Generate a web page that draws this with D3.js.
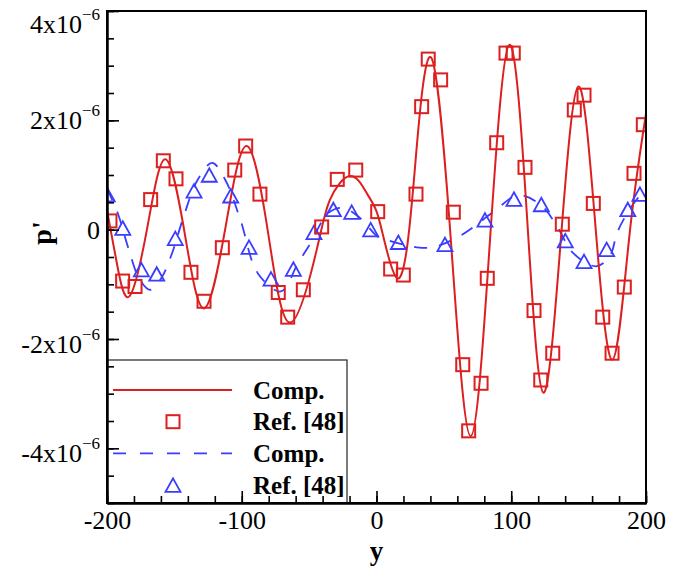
<!DOCTYPE html>
<html>
<head>
<meta charset="utf-8">
<script src="https://cdn.jsdelivr.net/npm/d3@7"></script>
<style>
  html, body { margin: 0; padding: 0; background: #fff; }
  svg { display: block; }
</style>
</head>
<body>
<svg id="chart" width="685" height="567"></svg>
<script>
// Pressure fluctuation p' along y. All p' values are in units of 1e-6.

// Computed solution, red (solid line)
const compRedY = [-200, -192.8, -183.4, -170, -156.7, -142.3, -128, -112, -96.3, -80.3, -64.2, -44.4, -34.5, -19.7, -7.3, 0.1, 6.3, 15.4, 22.4, 28.5, 40.5, 55.5, 69.9, 84.2, 98.6, 111.8, 123.8, 136.8, 149.8, 162.3, 175, 187.6, 200];
const compRedP = [0.35, -0.6, -1.22, 0.05, 1.29, -0.07, -1.44, 0.05, 1.53, -0.08, -1.70, -0.37, 0.55, 0.98, 0.67, 0.33, -0.25, -0.89, -0.37, 1.12, 3.15, -0.3, -3.78, -0.2, 3.38, 0.2, -2.98, -0.18, 2.62, 0.12, -2.38, -0.13, 2.12];

// Reference [48], red squares
const refRedY = [-197.8, -188.4, -179.2, -167.6, -158.2, -148.8, -137.7, -128, -114.4, -105.2, -97.1, -86.5, -72.9, -65.9, -54.3, -40.7, -29.1, -15.4, 0.9, 10.5, 19.9, 29.3, 33.5, 38.4, 47.6, 57, 64, 68.4, 77.6, 82.2, 89.2, 96.1, 101.5, 110.2, 116.9, 121.9, 130.8, 137.9, 146.8, 154, 160.9, 167.9, 174.8, 183.9, 191.1, 198];
const refRedP = [0.16, -0.94, -1.04, 0.55, 1.26, 0.93, -0.78, -1.31, -0.33, 1.09, 1.53, 0.65, -1.15, -1.6, -1.1, 0.05, 0.92, 1.09, 0.33, -0.72, -0.83, 0.65, 2.25, 3.12, 2.74, 0.32, -2.47, -3.68, -2.81, -0.89, 1.59, 3.23, 3.23, 1.14, -1.48, -2.75, -2.26, 0.1, 2.19, 2.46, 0.48, -1.6, -2.26, -1.05, 1.03, 1.92];

// Computed solution, blue (dashed line)
const compBlueY = [-200, -192, -184, -176, -168, -160, -152, -143, -133, -122, -112, -101, -88, -71, -58, -49, -36, -25, -12, 1, 8, 21, 29, 42, 63, 87, 105, 122, 134, 146, 163, 173, 179, 190, 200];
const compBlueP = [0.75, 0.3, -0.35, -0.9, -1.1, -0.9, -0.45, 0.25, 0.9, 1.22, 0.9, 0.18, -0.8, -1.13, -0.6, -0.25, 0.3, 0.4, 0.21, -0.13, -0.19, -0.28, -0.32, -0.32, -0.1, 0.33, 0.63, 0.45, 0.06, -0.43, -0.67, -0.49, -0.03, 0.45, 0.75];

// Reference [48], blue triangles
const refBlueY = [-199.8, -188.3, -174.5, -163.1, -149.3, -135.4, -124.1, -108.2, -94.6, -78.3, -61.7, -46.4, -32, -18.4, -4.3, 16.2, 50.8, 80.5, 102, 122.3, 140.1, 154, 170.8, 186.5, 195.5];
const refBlueP = [0.64, 0.03, -0.73, -0.81, -0.16, 0.71, 1.0, 0.62, -0.32, -0.9, -0.72, -0.05, 0.37, 0.32, 0.0, -0.23, -0.27, 0.18, 0.56, 0.46, -0.2, -0.58, -0.36, 0.37, 0.65];

// Axis ticks
const xMajorTicks = [-200, -100, 0, 100, 200];
const xMinorTicks = d3.range(-200, 201, 20);
const yMajorTicks = [4, 2, 0, -2, -4];
const yMinorTicks = d3.range(-5, 4.001, 0.5);
const yTickMantissa = ["4x10", "2x10", "0", "-2x10", "-4x10"];
const yTickExponent = ["\u22126", "\u22126", "", "\u22126", "\u22126"];

const legendLabels = ["Comp.", "Ref. [48]", "Comp.", "Ref. [48]"];

const RED = "#dc1f1f";
const BLUE = "#3a3cff";
const FONT = "'Liberation Serif', 'Times New Roman', Times, serif";

const W = 685, H = 567;
const plot = { left: 107, right: 646, top: 11, bottom: 503 };

const x = d3.scaleLinear().domain([-200, 200]).range([plot.left, plot.right]);
const y = d3.scaleLinear().domain([-5, 4]).range([plot.bottom, plot.top]);

const svg = d3.select("#chart");
svg.append("rect").attr("width", W).attr("height", H).attr("fill", "#fff");

svg.append("defs").append("clipPath").attr("id", "plot-clip")
  .append("rect")
  .attr("x", plot.left).attr("y", plot.top)
  .attr("width", plot.right - plot.left).attr("height", plot.bottom - plot.top);

const gData = svg.append("g").attr("clip-path", "url(#plot-clip)");

// marker shapes
const SQ = 13;
const TRI_W = 15, TRI_H = 13.5;
const triPath = `M0,${-TRI_H / 2}L${TRI_W / 2},${TRI_H / 2}L${-TRI_W / 2},${TRI_H / 2}Z`;

const blueLine = d3.line().x(d => x(d[0])).y(d => y(d[1])).curve(d3.curveCatmullRom.alpha(0.5));
const redLine = d3.line().x(d => x(d[0])).y(d => y(d[1])).curve(d3.curveNatural);

gData.append("path")
  .datum(d3.zip(compBlueY, compBlueP))
  .attr("d", blueLine)
  .attr("fill", "none")
  .attr("stroke", BLUE)
  .attr("stroke-width", 1.8)
  .attr("stroke-dasharray", "13 12");

gData.append("path")
  .datum(d3.zip(compRedY, compRedP))
  .attr("d", redLine)
  .attr("fill", "none")
  .attr("stroke", RED)
  .attr("stroke-width", 2);

gData.selectAll("path.tri")
  .data(d3.zip(refBlueY, refBlueP))
  .join("path")
  .attr("class", "tri")
  .attr("d", triPath)
  .attr("transform", d => `translate(${x(d[0])},${y(d[1])})`)
  .attr("fill", "none")
  .attr("stroke", BLUE)
  .attr("stroke-width", 1.8);

gData.selectAll("rect.sq")
  .data(d3.zip(refRedY, refRedP))
  .join("rect")
  .attr("class", "sq")
  .attr("x", d => x(d[0]) - SQ / 2)
  .attr("y", d => y(d[1]) - SQ / 2)
  .attr("width", SQ)
  .attr("height", SQ)
  .attr("fill", "none")
  .attr("stroke", RED)
  .attr("stroke-width", 2);

// Legend box in the lower-left corner
const legend = { left: 107, top: 360, right: 347, bottom: 503 };
svg.append("rect")
  .attr("x", legend.left).attr("y", legend.top)
  .attr("width", legend.right - legend.left).attr("height", legend.bottom - legend.top)
  .attr("fill", "#fff").attr("stroke", "#222").attr("stroke-width", 1.2);

const rowY = i => legend.top + 30 + i * 31.7;
const symX0 = 113, symX1 = 232, symXc = 173, textX = 253;

legendLabels.forEach((lab, i) => {
  const cy = rowY(i);
  if (i === 0) {
    svg.append("line").attr("x1", symX0).attr("x2", symX1).attr("y1", cy).attr("y2", cy)
      .attr("stroke", RED).attr("stroke-width", 2);
  } else if (i === 1) {
    svg.append("rect").attr("x", symXc - SQ / 2).attr("y", cy - SQ / 2)
      .attr("width", SQ).attr("height", SQ)
      .attr("fill", "none").attr("stroke", RED).attr("stroke-width", 2);
  } else if (i === 2) {
    svg.append("line").attr("x1", symX0).attr("x2", symX1).attr("y1", cy).attr("y2", cy)
      .attr("stroke", BLUE).attr("stroke-width", 1.8).attr("stroke-dasharray", "13 14");
  } else {
    svg.append("path").attr("d", triPath).attr("transform", `translate(${symXc},${cy})`)
      .attr("fill", "none").attr("stroke", BLUE).attr("stroke-width", 1.8);
  }
  svg.append("text")
    .attr("x", textX).attr("y", cy + 8.5)
    .attr("font-family", FONT).attr("font-weight", "bold").attr("font-size", 25)
    .attr("fill", "#000")
    .text(lab);
});

// Axes (ticks point into the plot)
function styleAxis(g) {
  g.select(".domain").attr("stroke", "#000").attr("stroke-width", 2);
  g.selectAll(".tick line").attr("stroke", "#000").attr("stroke-width", 1.6);
}

svg.append("g")
  .attr("transform", `translate(0,${plot.bottom})`)
  .call(d3.axisBottom(x).tickValues(xMinorTicks).tickSize(-7).tickSizeOuter(0).tickFormat(""))
  .call(styleAxis);

const gx = svg.append("g")
  .attr("transform", `translate(0,${plot.bottom})`)
  .call(d3.axisBottom(x).tickValues(xMajorTicks).tickSize(-12).tickSizeOuter(0)
    .tickPadding(8).tickFormat(d => String(d)))
  .call(styleAxis);
gx.selectAll(".tick text").attr("font-family", FONT).attr("font-size", 26).attr("fill", "#000");

svg.append("g")
  .attr("transform", `translate(${plot.left},0)`)
  .call(d3.axisLeft(y).tickValues(yMinorTicks).tickSize(-7).tickSizeOuter(0).tickFormat(""))
  .call(styleAxis);

svg.append("g")
  .attr("transform", `translate(${plot.left},0)`)
  .call(d3.axisLeft(y).tickValues(yMajorTicks).tickSize(-12).tickSizeOuter(0).tickFormat(""))
  .call(styleAxis);

// y tick labels with superscript exponent
yMajorTicks.forEach((v, i) => {
  const base = Math.max(y(v) + (v < 0 ? 14 : 9), 33);
  const t = svg.append("text")
    .attr("x", 100).attr("y", base)
    .attr("text-anchor", "end")
    .attr("font-family", FONT).attr("font-size", 26).attr("fill", "#000");
  t.append("tspan").text(yTickMantissa[i]);
  if (yTickExponent[i]) {
    t.append("tspan").attr("dy", -13).attr("font-size", 17).text(yTickExponent[i]);
  }
});

// frame
svg.append("rect")
  .attr("x", plot.left).attr("y", plot.top)
  .attr("width", plot.right - plot.left).attr("height", plot.bottom - plot.top)
  .attr("fill", "none").attr("stroke", "#000").attr("stroke-width", 2);

// axis titles
svg.append("text")
  .attr("x", (plot.left + plot.right) / 2).attr("y", 560)
  .attr("text-anchor", "middle")
  .attr("font-family", FONT).attr("font-weight", "bold").attr("font-size", 27)
  .attr("fill", "#000")
  .text("y");

svg.append("text")
  .attr("transform", `translate(51,${(plot.top + plot.bottom) / 2 - 24}) rotate(-90)`)
  .attr("text-anchor", "middle")
  .attr("font-family", FONT).attr("font-weight", "bold").attr("font-size", 28)
  .attr("fill", "#000")
  .text("p'");
</script>
</body>
</html>
